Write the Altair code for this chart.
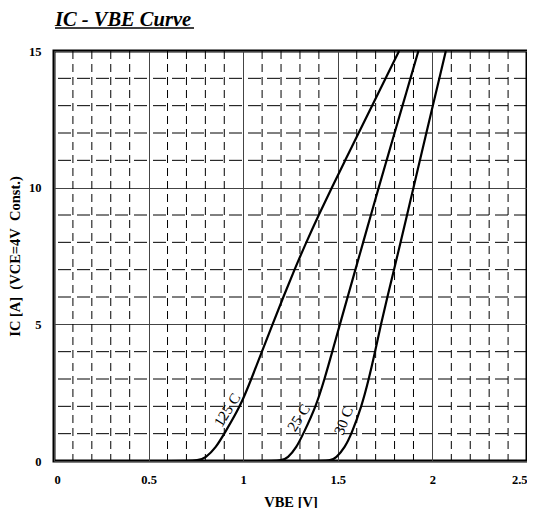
import altair as alt
import pandas as pd

title_text = "IC - VBE Curve"
x_title = "VBE [V]"
y_title = "IC [A]\u00a0\u00a0(VCE=4V\u00a0\u00a0Const.)"

x_ticks = [0, 0.5, 1, 1.5, 2, 2.5]
y_ticks = [0, 5, 10, 15]
x_minor = [0.1, 0.2, 0.3, 0.4, 0.6, 0.7, 0.8, 0.9, 1.1, 1.2, 1.3, 1.4,
           1.6, 1.7, 1.8, 1.9, 2.1, 2.2, 2.3, 2.4]
y_minor = [1, 2, 3, 4, 6, 7, 8, 9, 11, 12, 13, 14]

ic_pts = [0, 0, 0.02, 0.1, 0.5, 1, 2, 3, 4, 5, 6, 7, 8, 9, 10, 11, 12, 13, 14, 15]
vbe_125 = [0.60, 0.70, 0.76, 0.80, 0.857, 0.90, 0.985, 1.043, 1.099, 1.155, 1.212,
           1.271, 1.333, 1.399, 1.468, 1.539, 1.61, 1.681, 1.753, 1.824]
vbe_25 = [1.05, 1.16, 1.20, 1.235, 1.282, 1.318, 1.385, 1.43, 1.471, 1.511, 1.552,
          1.593, 1.634, 1.675, 1.716, 1.758, 1.80, 1.842, 1.884, 1.926]
vbe_30 = [1.30, 1.42, 1.46, 1.49, 1.538, 1.573, 1.626, 1.664, 1.697, 1.728, 1.762,
          1.797, 1.832, 1.866, 1.90, 1.934, 1.968, 2.002, 2.037, 2.071]

curve_names = ["125 C", "25 C", "30 C"]
label_x = [0.915, 1.293, 1.53]
label_y = [1.87, 1.58, 1.47]
label_angle = [302, 303, 291]

SERIF = "Liberation Serif"

rows = []
for name, xs in zip(curve_names, [vbe_125, vbe_25, vbe_30]):
    for i, (xv, yv) in enumerate(zip(xs, ic_pts)):
        rows.append({"curve": name, "vbe": xv, "ic": yv, "order": i})
curves_df = pd.DataFrame(rows)
labels_df = pd.DataFrame({"curve": curve_names, "vbe": label_x, "ic": label_y,
                          "angle": label_angle})
xminor_df = pd.DataFrame({"v": x_minor})
yminor_df = pd.DataFrame({"v": y_minor})

xscale = alt.Scale(domain=[0, 2.5], nice=False, zero=False)
yscale = alt.Scale(domain=[0, 15], nice=False, zero=False)

x_axis = alt.Axis(values=x_ticks, format="~g", grid=True, title=x_title,
                  titleY=45, titleBaseline="alphabetic", titleFontSize=14.5,
                  labelPadding=12)
y_axis = alt.Axis(values=y_ticks, format="~g", grid=True, title=y_title,
                  titleX=-39, titleY=205, titleAngle=270, titleAlign="center",
                  titleBaseline="middle", titleFontSize=14.5, labelPadding=13)

minor_v = alt.Chart(xminor_df).mark_rule(
    color="black", strokeWidth=1, strokeDash=[8, 5]
).encode(x=alt.X("v:Q", scale=xscale, axis=x_axis))

minor_h = alt.Chart(yminor_df).mark_rule(
    color="black", strokeWidth=1, strokeDash=[13, 6]
).encode(y=alt.Y("v:Q", scale=yscale, axis=y_axis))

lines = alt.Chart(curves_df).mark_line(
    color="black", strokeWidth=2.2, interpolate="basis", clip=True
).encode(
    x=alt.X("vbe:Q", scale=xscale),
    y=alt.Y("ic:Q", scale=yscale),
    detail="curve:N",
    order="order:Q",
)

texts = alt.Chart(labels_df).mark_text(
    font=SERIF, fontSize=15, color="black", align="center", baseline="middle"
).encode(
    x=alt.X("vbe:Q", scale=xscale),
    y=alt.Y("ic:Q", scale=yscale),
    text="curve:N",
    angle=alt.Angle("angle:Q", scale=None),
)

title_df = pd.DataFrame({"t": [title_text]})
title_mark = alt.Chart(title_df).mark_text(
    font=SERIF, fontSize=20.5, fontStyle="italic", fontWeight="bold",
    align="left", baseline="alphabetic", color="black"
).encode(x=alt.value(1), y=alt.value(-25.5), text="t:N")

underline = alt.Chart(title_df).mark_rule(color="black", strokeWidth=1.6).encode(
    x=alt.value(1), x2=alt.value(140), y=alt.value(-23)
)

chart = alt.layer(minor_v, minor_h, lines, texts, title_mark, underline).properties(
    width=473, height=410,
    autosize=alt.AutoSizeParams(type="none"),
    padding={"left": 46, "top": 43, "right": 0, "bottom": 47},
).configure_view(
    stroke="black", strokeWidth=3
).configure_axis(
    domain=False, ticks=False, tickSize=0,
    labelFont=SERIF, labelFontWeight="bold", labelFontSize=12.5, labelColor="black",
    titleFont=SERIF, titleFontWeight="bold", titleFontSize=14, titleColor="black",
    gridColor="#444444", gridWidth=1, gridOpacity=1,
)

chart.save("out.html", embed_options={"renderer": "svg", "actions": False})
